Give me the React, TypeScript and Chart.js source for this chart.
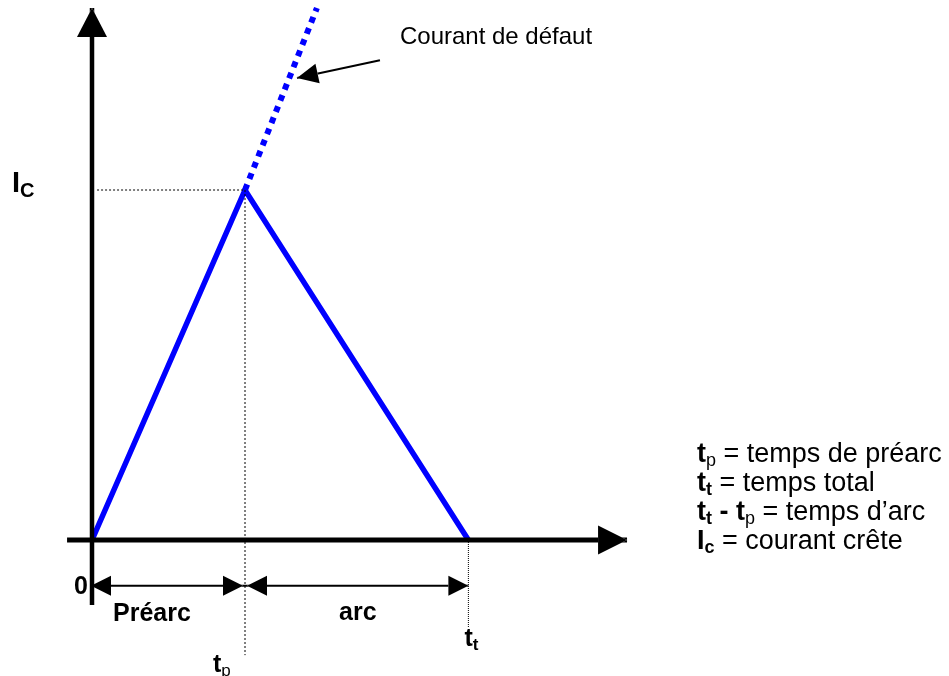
import { useEffect, useRef } from "react";
import { Chart, registerables } from "chart.js";

Chart.register(...registerables);

// ---- Data (time in units of pre-arc time t_p, current in units of peak current I_c) ----
const T_P = 1.0;
const T_T = 2.46;
const I_C = 1.0;

const currentT = [0, T_P, T_T];
const currentI = [0, I_C, 0];

const faultT = [T_P, 1.47];
const faultI = [I_C, 1.52];

const xAxisT = [-0.163, 3.497];
const yAxisI = [-0.186, 1.52];

const dimI = -0.131; // level of the dimension arrows
const tpGuideI = [I_C, -0.329];
const ttGuideI = [0, -0.249];
const icGuideT = [0.033, T_P];

const pointerT = [1.882, 1.34];
const pointerI = [1.371, 1.32];

// ---- Texts ----
type Run = { s: string; bold?: boolean; sub?: boolean };
const legendLines: Run[][] = [
  [{ s: "t", bold: true }, { s: "p", sub: true }, { s: " = temps de préarc" }],
  [{ s: "t", bold: true }, { s: "t", bold: true, sub: true }, { s: " = temps total" }],
  [
    { s: "t", bold: true },
    { s: "t", bold: true, sub: true },
    { s: " - ", bold: true },
    { s: "t", bold: true },
    { s: "p", sub: true },
    { s: " = temps d’arc" },
  ],
  [{ s: "I", bold: true }, { s: "c", bold: true, sub: true }, { s: " = courant crête" }],
];
const faultLabel = "Courant de défaut";
const preArcLabel = "Préarc";
const arcLabel = "arc";
const zeroLabel = "0";
const icLabel: Run[] = [{ s: "I", bold: true }, { s: "C", bold: true, sub: true }];
const tpLabel: Run[] = [{ s: "t", bold: true }, { s: "p", sub: true }];
const ttLabel: Run[] = [{ s: "t", bold: true }, { s: "t", bold: true, sub: true }];

// ---- Layout (pixel geometry of the drawing) ----
const W = 949;
const H = 676;
const X0_PX = 92;
const X_UNIT = 153;
const Y0_PX = 540;
const Y_UNIT = 350;
const X_MIN = -X0_PX / X_UNIT;
const X_MAX = X_MIN + W / X_UNIT;
const Y_MAX = Y0_PX / Y_UNIT;
const Y_MIN = Y_MAX - H / Y_UNIT;

const FONT = '"Liberation Sans", Arial, Helvetica, sans-serif';

const pts = (xs: number[], ys: number[]) => xs.map((x, k) => ({ x, y: ys[k] }));

function drawRuns(ctx: CanvasRenderingContext2D, runs: Run[], x: number, y: number, size: number) {
  let cx = x;
  for (const r of runs) {
    const sz = r.sub ? Math.round(size * 0.68) : size;
    ctx.font = `${r.bold ? "bold " : ""}${sz}px ${FONT}`;
    ctx.fillText(r.s, cx, y + (r.sub ? Math.round(size * 0.16) : 0));
    cx += ctx.measureText(r.s).width;
  }
}

function arrowTriangles(chart: any, index: number) {
  const ds: any = chart.data.datasets[index];
  const a = ds.arrow;
  if (!a) return [];
  const meta = chart.getDatasetMeta(index);
  const els = meta.data;
  const n = els.length;
  const tris: number[][][] = [];
  const make = (tipEl: any, prevEl: any, inset: number) => {
    const dx = tipEl.x - prevEl.x;
    const dy = tipEl.y - prevEl.y;
    const L = Math.hypot(dx, dy) || 1;
    const ux = dx / L;
    const uy = dy / L;
    const tx = tipEl.x - ux * inset;
    const ty = tipEl.y - uy * inset;
    const bx = tx - ux * a.len;
    const by = ty - uy * a.len;
    const nx = -uy;
    const ny = ux;
    tris.push([
      [tx, ty],
      [bx + nx * a.half, by + ny * a.half],
      [bx - nx * a.half, by - ny * a.half],
    ]);
  };
  if (a.end) make(els[n - 1], els[n - 2], a.insetEnd || 0);
  if (a.start) make(els[0], els[1], a.insetStart || 0);
  return tris;
}

const arrowPlugin = {
  id: "arrowheads",
  beforeDatasetDraw(chart: any, args: any) {
    const tris = arrowTriangles(chart, args.index);
    if (!tris.length) return;
    const ctx = chart.ctx as CanvasRenderingContext2D;
    ctx.save();
    ctx.beginPath();
    ctx.rect(0, 0, chart.width, chart.height);
    for (const t of tris) {
      ctx.moveTo(t[0][0], t[0][1]);
      ctx.lineTo(t[1][0], t[1][1]);
      ctx.lineTo(t[2][0], t[2][1]);
      ctx.closePath();
    }
    ctx.clip("evenodd");
  },
  afterDatasetDraw(chart: any, args: any) {
    const tris = arrowTriangles(chart, args.index);
    if (!tris.length) return;
    const ctx = chart.ctx as CanvasRenderingContext2D;
    ctx.restore();
    const ds: any = chart.data.datasets[args.index];
    ctx.save();
    ctx.fillStyle = ds.borderColor;
    for (const t of tris) {
      ctx.beginPath();
      ctx.moveTo(t[0][0], t[0][1]);
      ctx.lineTo(t[1][0], t[1][1]);
      ctx.lineTo(t[2][0], t[2][1]);
      ctx.closePath();
      ctx.fill();
    }
    ctx.restore();
  },
};

const textPlugin = {
  id: "texts",
  afterDraw(chart: any) {
    const ctx = chart.ctx as CanvasRenderingContext2D;
    const xs = chart.scales.x;
    const ys = chart.scales.y;
    const px = (t: number) => xs.getPixelForValue(t);
    const py = (i: number) => ys.getPixelForValue(i);
    ctx.save();
    ctx.fillStyle = "#000";
    ctx.textBaseline = "alphabetic";
    ctx.textAlign = "left";

    // fault current label
    ctx.font = `24px ${FONT}`;
    ctx.fillText(faultLabel, px(pointerT[0]) + 20, py(pointerI[0]) - 16);

    // I_C label on the current axis
    drawRuns(ctx, icLabel, px(0) - 80, py(I_C) + 2, 29);

    // zero
    ctx.font = `bold 25px ${FONT}`;
    ctx.textAlign = "center";
    ctx.fillText(zeroLabel, px(0) - 11, py(dimI) + 8);
    ctx.textAlign = "left";

    // phase labels
    ctx.font = `bold 25px ${FONT}`;
    ctx.fillText(preArcLabel, px(0) + 21, py(dimI) + 35);
    ctx.fillText(arcLabel, px(T_P) + 94, py(dimI) + 34);

    // time labels
    drawRuns(ctx, tpLabel, px(T_P) - 32, py(tpGuideI[1]) + 17, 25);
    drawRuns(ctx, ttLabel, px(T_T) - 4, py(ttGuideI[1]) + 19, 25);

    // legend
    const lx = 697;
    const baselines = [462, 491, 520, 549];
    legendLines.forEach((line, k) => drawRuns(ctx, line, lx, baselines[k], 27));

    ctx.restore();
  },
};

export default function App() {
  const ref = useRef<HTMLCanvasElement>(null);

  useEffect(() => {
    document.body.style.margin = "0";
    const canvas = ref.current;
    if (!canvas) return;
    const BLUE = "#0000FF";
    const line = (data: any[], extra: any) => ({
      data,
      showLine: true,
      pointRadius: 0,
      pointHoverRadius: 0,
      fill: false,
      tension: 0,
      borderCapStyle: "butt",
      borderJoinStyle: "miter",
      ...extra,
    });
    const chart = new Chart(canvas, {
      type: "scatter",
      data: {
        datasets: [
          line(pts(icGuideT, [I_C, I_C]), { borderColor: "#000", borderWidth: 1, borderDash: [2, 2] }),
          line(pts([T_P, T_P], tpGuideI), { borderColor: "#000", borderWidth: 1, borderDash: [2, 2] }),
          line(pts([T_T, T_T], ttGuideI), { borderColor: "#000", borderWidth: 1, borderDash: [1, 1] }),
          line(pts(xAxisT, [0, 0]), { borderColor: "#000", borderWidth: 5, arrow: { end: true, len: 29, half: 14.5 } }),
          line(pts([0, 0], yAxisI), { borderColor: "#000", borderWidth: 4.5, arrow: { end: true, len: 29, half: 15 } }),
          line(pts([0, T_P], [dimI, dimI]), {
            borderColor: "#000",
            borderWidth: 2,
            arrow: { start: true, end: true, len: 20, half: 10, insetStart: -1, insetEnd: 2 },
          }),
          line(pts([T_P, T_T], [dimI, dimI]), {
            borderColor: "#000",
            borderWidth: 2,
            arrow: { start: true, end: true, len: 20, half: 10, insetStart: 2, insetEnd: 0 },
          }),
          line(pts(pointerT, pointerI), { borderColor: "#000", borderWidth: 2, arrow: { end: true, len: 21, half: 10 } }),
          line(pts(faultT, faultI), { borderColor: BLUE, borderWidth: 6, borderDash: [6, 6] }),
          line(pts(currentT, currentI), { borderColor: BLUE, borderWidth: 5.5 }),
        ] as any,
      },
      options: {
        animation: false,
        responsive: false,
        maintainAspectRatio: false,
        events: [],
        layout: { padding: 0 },
        plugins: { legend: { display: false }, tooltip: { enabled: false } },
        scales: {
          x: { type: "linear", min: X_MIN, max: X_MAX, display: false },
          y: { type: "linear", min: Y_MIN, max: Y_MAX, display: false },
        },
      },
      plugins: [arrowPlugin, textPlugin],
    });
    return () => chart.destroy();
  }, []);

  return (
    <div style={{ position: "absolute", left: 0, top: 0, width: W, height: H, background: "#fff" }}>
      <canvas ref={ref} width={W} height={H} style={{ display: "block" }} />
    </div>
  );
}
